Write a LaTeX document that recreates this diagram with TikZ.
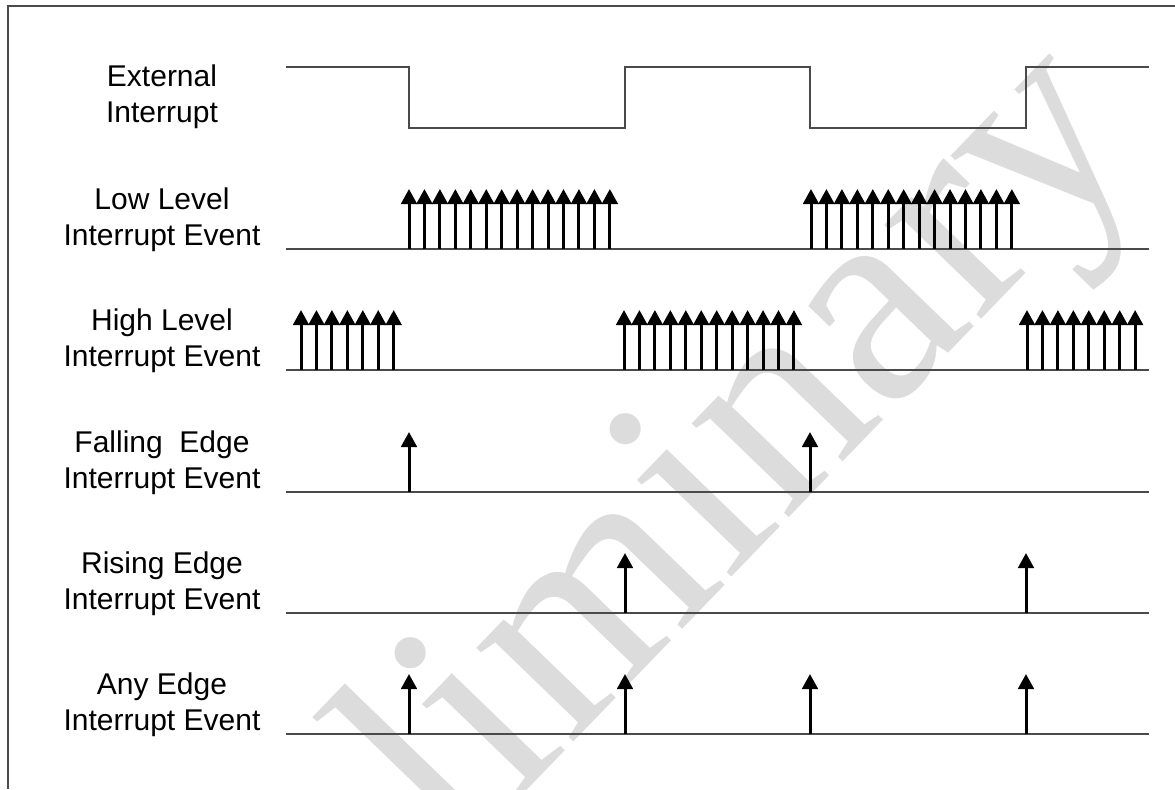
\documentclass[tikz,border=0pt]{standalone}
\usepackage{fontspec}
\setmainfont{Liberation Sans}
\newfontfamily\wmfont{Liberation Serif}
\usetikzlibrary{arrows.meta,positioning}
\definecolor{ink}{HTML}{000000}
\definecolor{wire}{HTML}{4A4A4A}
\definecolor{wmgray}{HTML}{DCDCDC}
\tikzset{
  sig/.style={draw=wire,line width=0.75pt},
  frame/.style={draw=wire,line width=0.8pt},
  evt/.style={-{Triangle[width=7.8pt,length=7.5pt]},line width=1.5pt,ink},
  lbl/.style={font=\fontsize{15}{18}\selectfont,align=center,inner sep=0pt,anchor=base},
}
\begin{document}
\begin{tikzpicture}[x=0.5pt,y=-0.5pt]
  \useasboundingbox (0,0) rectangle (1175,789);
  % watermark behind everything
  \begin{scope}
    \clip (0,0) rectangle (1175,789);
    \node[wmgray,font=\wmfont\fontsize{147}{147}\selectfont,rotate=46,anchor=base west,inner sep=0pt] (wm) at (183,1146) {Preliminary};
  \end{scope}
  \draw[frame] (1175,6) -- (8,6) -- (8,789);

  % labels
  \node[lbl] (ext)  at (162,122) {External\\Interrupt};
  \node[lbl] (low)  at (162,245) {Low Level\\Interrupt Event};
  \node[lbl] (high) at (162,366) {High Level\\Interrupt Event};
  \node[lbl] (fall) at (162,488) {Falling\ \ Edge\\Interrupt Event};
  \node[lbl] (rise) at (162,609) {Rising Edge\\Interrupt Event};
  \node[lbl] (any)  at (162,730) {Any Edge\\Interrupt Event};

  % external interrupt waveform
  \draw[sig] (286,67) -- (409,67) -- (409,128) -- (625,128) -- (625,67)
    -- (810,67) -- (810,128) -- (1026,128) -- (1026,67) -- (1149,67);
  \foreach \y in {249,370,492,613,734}
    \draw[sig] (286,\y) -- (1149,\y);

  % level events
  \foreach \s/\n in {409/13,811/13}
    \foreach \i in {0,...,\n}
      \draw[evt] ({\s+15.45*\i},249) -- ++(0,-60);
  \foreach \s/\n in {301/6,624/11,1027/7}
    \foreach \i in {0,...,\n}
      \draw[evt] ({\s+15.45*\i},370) -- ++(0,-60);

  % edge events
  \foreach \x in {409,810}
    \draw[evt] (\x,492) -- ++(0,-60);
  \foreach \x in {625,1026}
    \draw[evt] (\x,613) -- ++(0,-60);
  \foreach \x in {409,625,810,1026}
    \draw[evt] (\x,734) -- ++(0,-60);
\end{tikzpicture}
\end{document}
